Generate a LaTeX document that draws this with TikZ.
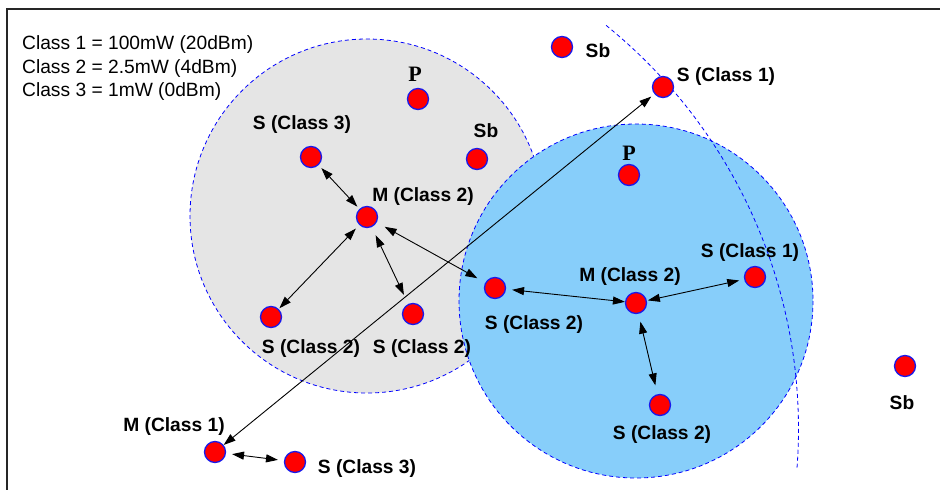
\documentclass[tikz,border=0pt]{standalone}
\usepackage{fontspec}
\setmainfont{Liberation Sans}
\newfontfamily\pserif{Liberation Serif}
\usetikzlibrary{arrows.meta}
\definecolor{grayzone}{RGB}{229,229,229}
\definecolor{bluezone}{RGB}{135,206,250}
\definecolor{nodered}{RGB}{255,0,0}
\definecolor{nodeblue}{RGB}{25,25,235}
\definecolor{rangeblue}{RGB}{0,0,255}
\begin{document}
\begin{tikzpicture}[x=1pt,y=-1pt,
  dev/.style={circle, fill=nodered, draw=nodeblue, line width=1.3pt, minimum size=21pt, inner sep=0pt},
  lab/.style={font=\fontsize{19.2}{22}\selectfont\bfseries, inner sep=0pt},
  plab/.style={font=\fontsize{22}{24}\selectfont\pserif\bfseries, inner sep=0pt},
  legend/.style={font=\fontsize{19.2}{22}\selectfont, inner sep=0pt, anchor=base west},
  zone/.style={draw=rangeblue, line width=0.8pt, dash pattern=on 4pt off 3pt},
  link/.style={{Triangle[length=12pt,width=8pt]}-{Triangle[length=12pt,width=8pt]}, line width=0.9pt},
]
\useasboundingbox (0,0) rectangle (940,490);
% frame
\draw[line width=1.5pt, black!85] (7,490) -- (7,9) -- (940,9);
% zones
\fill[grayzone] (367,216) circle[radius=177];
\draw[zone] (367,216) circle[radius=177];
\fill[bluezone] (636,301) circle[radius=177];
\draw[zone] (636,301) circle[radius=177];
% class 1 range arc
\draw[zone] plot[domain=51:-4.6, samples=80, smooth] ({279.5+519*cos(\x)},{428.7-519*sin(\x)});
% legend
\node[legend] (leg1) at (22,49.5) {Class 1 = 100mW (20dBm)};
\node[legend] (leg2) at (22,73) {Class 2 = 2.5mW (4dBm)};
\node[legend] (leg3) at (22,96.5) {Class 3 = 1mW (0dBm)};
% devices
\node[dev] (pA) at (418,99) {};
\node[dev] (sbA) at (477,159) {};
\node[dev] (s3A) at (311,157) {};
\node[dev] (m2A) at (367,217) {};
\node[dev] (s2L) at (271,317) {};
\node[dev] (s2R) at (413,314) {};
\node[dev] (sbT) at (562,47) {};
\node[dev] (s1T) at (663,87) {};
\node[dev] (pB) at (629,175) {};
\node[dev] (s2B) at (495,288) {};
\node[dev] (m2B) at (636,303) {};
\node[dev] (s1R) at (755,277) {};
\node[dev] (s2D) at (660,405) {};
\node[dev] (sbR) at (905,366) {};
\node[dev] (m1) at (215,452) {};
\node[dev] (s3D) at (295,462) {};
% labels
\node[plab] (lpA) at (415,74) {P};
\node[lab] (lsbA) at (486,131) {Sb};
\node[lab] (ls3A) at (302,125) {S (Class 3)};
\node[lab] (lm2A) at (423,197) {M (Class 2)};
\node[lab] (ls2L) at (311,349) {S (Class 2)};
\node[lab] (ls2R) at (422,349) {S (Class 2)};
\node[lab] (lsbT) at (598,51) {Sb};
\node[lab] (ls1T) at (726,77) {S (Class 1)};
\node[plab] (lpB) at (629,153) {P};
\node[lab] (ls2B) at (534,325) {S (Class 2)};
\node[lab] (lm2B) at (630,277) {M (Class 2)};
\node[lab] (ls1R) at (750,253) {S (Class 1)};
\node[lab] (ls2D) at (662,435) {S (Class 2)};
\node[lab] (lsbR) at (902,403) {Sb};
\node[lab] (lm1) at (174,427) {M (Class 1)};
\node[lab] (ls3D) at (367,469) {S (Class 3)};
% links
\draw[link, shorten <=4pt, shorten >=3pt] (s3A) -- (m2A);
\draw[link, shorten <=5pt, shorten >=1pt] (m2A) -- (s2L);
\draw[link, shorten <=9pt, shorten >=10pt] (m2A) -- (s2R);
\draw[link, shorten <=9pt, shorten >=9pt] (m2A) -- (s2B);
\draw[link, shorten <=6pt, shorten >=0pt] (s2B) -- (m2B);
\draw[link, shorten <=1pt, shorten >=5pt] (m2B) -- (s1R);
\draw[link, shorten <=8pt, shorten >=9pt] (m2B) -- (s2D);
\draw[link, shorten <=0pt, shorten >=4pt] (m1) -- (s1T);
\draw[link, shorten <=6pt, shorten >=6pt] (m1) -- (s3D);
\end{tikzpicture}
\end{document}
